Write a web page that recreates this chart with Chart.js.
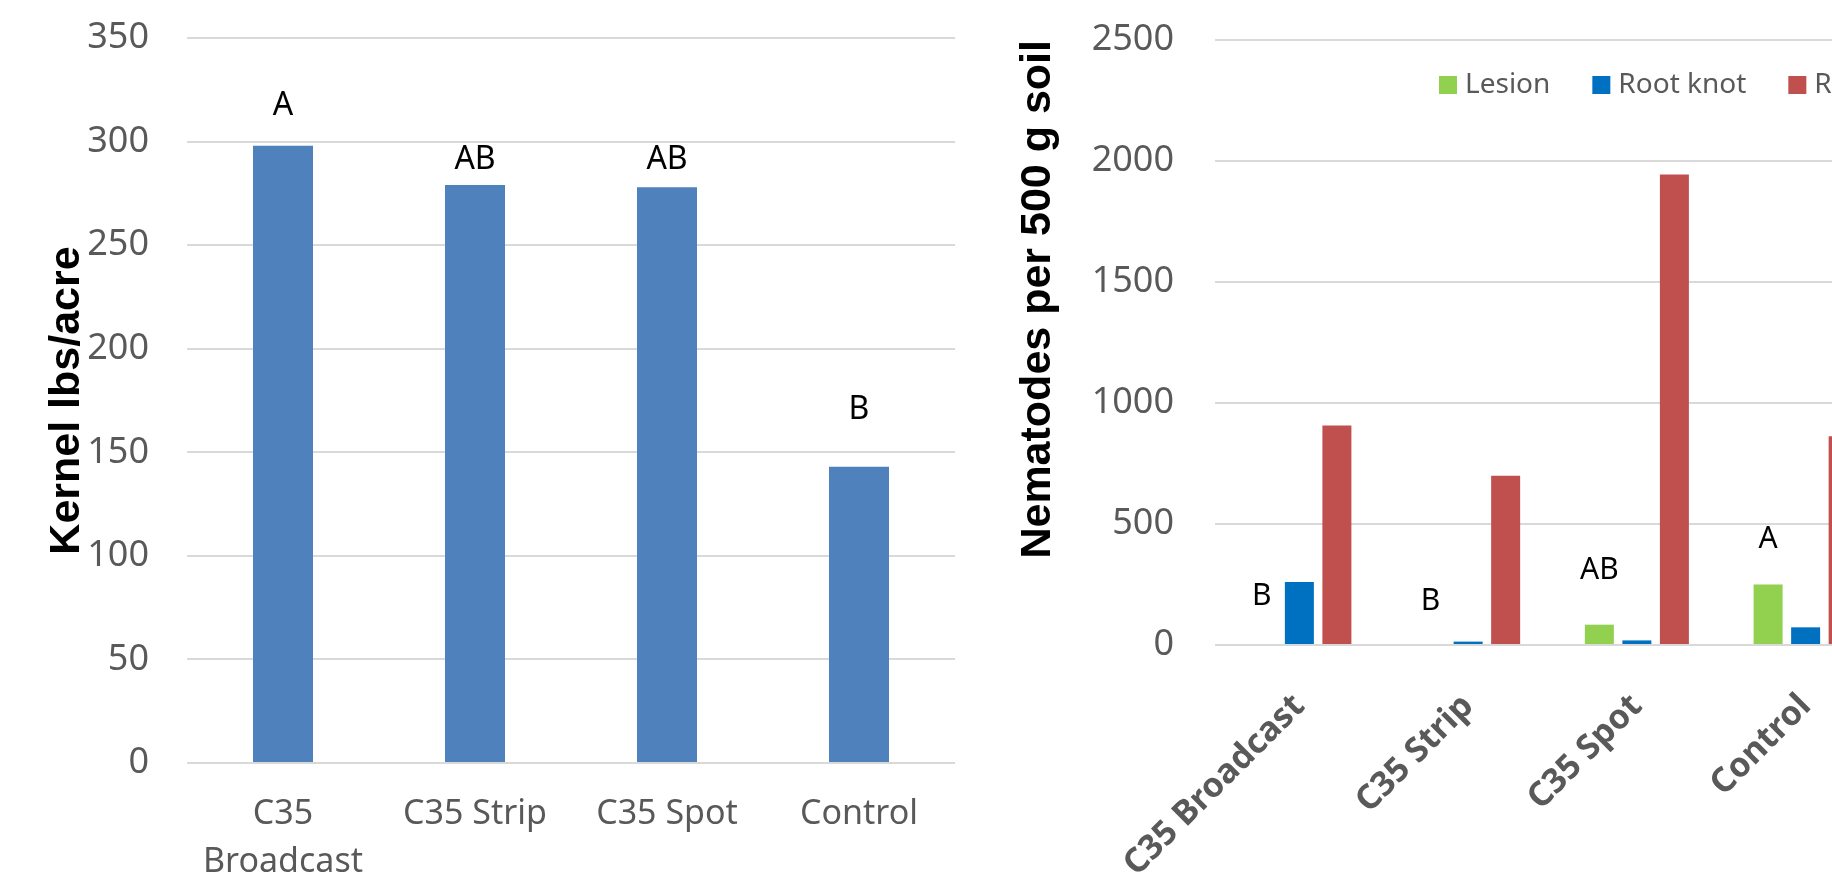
<!DOCTYPE html>
<html>
<head>
<meta charset="utf-8">
<title>Kernel yield and nematode counts</title>
<script src="https://cdn.jsdelivr.net/npm/chart.js@4.4.1/dist/chart.umd.min.js"></script>
<style>
    html, body { margin: 0; padding: 0; background: #fff; overflow: hidden; }
    body { width: 1832px; height: 877px; position: relative; }
    #kernel-chart { position: absolute; left: 0; top: 0; }
    #nematode-chart { position: absolute; left: 980px; top: 0; }
</style>
</head>
<body>
<canvas id="kernel-chart" width="960" height="877"></canvas>
<canvas id="nematode-chart" width="920" height="877"></canvas>
<script>
var kernelCategories = [['C35', 'Broadcast'], 'C35 Strip', 'C35 Spot', 'Control'];
var kernelYield = [298, 279, 278, 143];
var kernelLetters = ['A', 'AB', 'AB', 'B'];
var kernelLetterAt = [313, 287, 287, 166];
var kernelTicks = [0, 50, 100, 150, 200, 250, 300, 350];

var nematodeCategories = ['C35 Broadcast', 'C35 Strip', 'C35 Spot', 'Control'];
var lesion = [0, 0, 84, 250];
var rootKnot = [260, 14, 19, 73];
var ring = [907, 699, 1944, 863];
var nematodeLetters = ['B', 'B', 'AB', 'A'];
var nematodeLetterAt = [165, 145, 272, 400];
var nematodeTicks = [0, 500, 1000, 1500, 2000, 2500];

(function () {
    'use strict';

    var GRAY = '#595959',
        GRID = '#d9d9d9',
        SANS = "'Noto Sans', 'Open Sans', sans-serif",
        ARIAL = "'Liberation Sans', Arial, sans-serif";

    Chart.defaults.font.family = SANS;
    Chart.defaults.color = GRAY;

    // significance letters over the bars of one dataset
    var makeLetters = function (letters, at, datasetIndex, size) {
            return {
                id: 'letters',
                afterDatasetsDraw: function (chart) {
                    var ctx = chart.ctx,
                        bars = chart.getDatasetMeta(datasetIndex).data,
                        y = chart.scales.y;

                    ctx.save();
                    ctx.font = size + 'px ' + SANS;
                    ctx.fillStyle = '#000';
                    ctx.textAlign = 'center';
                    ctx.textBaseline = 'alphabetic';
                    letters.forEach(function (letter, i) {
                        ctx.fillText(letter, bars[i].x, y.getPixelForValue(at[i]));
                    });
                    ctx.restore();
                }
            };
        },

        // the legend sits inside the plot area, so it is drawn by hand
        innerLegend = {
            id: 'innerLegend',
            afterDraw: function (chart) {
                var ctx = chart.ctx,
                    area = chart.chartArea,
                    box = 18,
                    x = area.left + 224,
                    y = area.top + 45;

                ctx.save();
                ctx.font = '28px ' + SANS;
                ctx.textAlign = 'left';
                ctx.textBaseline = 'middle';
                chart.data.datasets.forEach(function (dataset) {
                    ctx.fillStyle = dataset.backgroundColor;
                    ctx.fillRect(x, y - box / 2, box, box);
                    x += box + 8;
                    ctx.fillStyle = GRAY;
                    ctx.fillText(dataset.label, x, y);
                    x += ctx.measureText(dataset.label).width + 42;
                });
                ctx.restore();
            }
        },

        // tick padding would also push the plot top down, so the gap
        // between labels and plot comes from an invisible tick mark instead
        yAxis = function (ticks, title, align, titlePad, gap, width) {
            return {
                min: ticks[0],
                max: ticks[ticks.length - 1],
                afterBuildTicks: function (scale) {
                    scale.ticks = ticks.map(function (value) {
                        return { value: value };
                    });
                },
                afterFit: function (scale) {
                    scale.width = width;
                },
                grid: {
                    color: GRID,
                    lineWidth: 2,
                    drawTicks: true,
                    tickLength: gap,
                    tickColor: 'rgba(0,0,0,0)'
                },
                border: { display: false },
                ticks: {
                    padding: 0,
                    color: GRAY,
                    font: { size: 36 },
                    callback: function (value) {
                        return String(value);
                    }
                },
                title: {
                    display: true,
                    text: title,
                    align: align,
                    color: '#000',
                    padding: { top: titlePad, bottom: 0 },
                    font: { family: ARIAL, size: 43, weight: 'bold' }
                }
            };
        },

        xAxis = function (rotation, padding, height, weight) {
            return {
                grid: { display: false, drawTicks: false },
                border: { display: false },
                afterFit: function (scale) {
                    scale.height = height;
                },
                ticks: {
                    autoSkip: false,
                    minRotation: rotation,
                    maxRotation: rotation,
                    padding: padding,
                    color: GRAY,
                    font: { size: 34, weight: weight, lineHeight: 1.4 }
                }
            };
        },

        baseOptions = function (padding) {
            return {
                responsive: false,
                animation: false,
                events: [],
                layout: { padding: padding },
                plugins: {
                    legend: { display: false },
                    tooltip: { enabled: false }
                }
            };
        };

    var kernelOptions = baseOptions({ top: 38, right: 5, left: 0, bottom: 0 });
    kernelOptions.scales = {
        x: xAxis(0, 28, 114, 'normal'),
        y: yAxis(kernelTicks, 'Kernel lbs/acre', 'center', 41, 38, 187)
    };

    new Chart(document.getElementById('kernel-chart').getContext('2d'), {
        type: 'bar',
        data: {
            labels: kernelCategories,
            datasets: [{
                label: 'Kernel lbs/acre',
                data: kernelYield,
                backgroundColor: '#4f81bd',
                categoryPercentage: 1,
                barPercentage: 0.3125
            }]
        },
        options: kernelOptions,
        plugins: [makeLetters(kernelLetters, kernelLetterAt, 0, 32)]
    });

    var nematodeOptions = baseOptions({ top: 40, right: 10, left: 0, bottom: 0 });
    nematodeOptions.datasets = { bar: { categoryPercentage: 0.667, barPercentage: 0.773 } };
    nematodeOptions.scales = {
        x: xAxis(45, 39, 232, 'bold'),
        y: yAxis(nematodeTicks, 'Nematodes per 500 g soil', 'end', 32, 41, 235)
    };

    new Chart(document.getElementById('nematode-chart').getContext('2d'), {
        type: 'bar',
        data: {
            labels: nematodeCategories,
            datasets: [
                { label: 'Lesion', data: lesion, backgroundColor: '#92d050' },
                { label: 'Root knot', data: rootKnot, backgroundColor: '#0070c0' },
                { label: 'Ring', data: ring, backgroundColor: '#c0504d' }
            ]
        },
        options: nematodeOptions,
        plugins: [makeLetters(nematodeLetters, nematodeLetterAt, 0, 30), innerLegend]
    });
}());
</script>
</body>
</html>
